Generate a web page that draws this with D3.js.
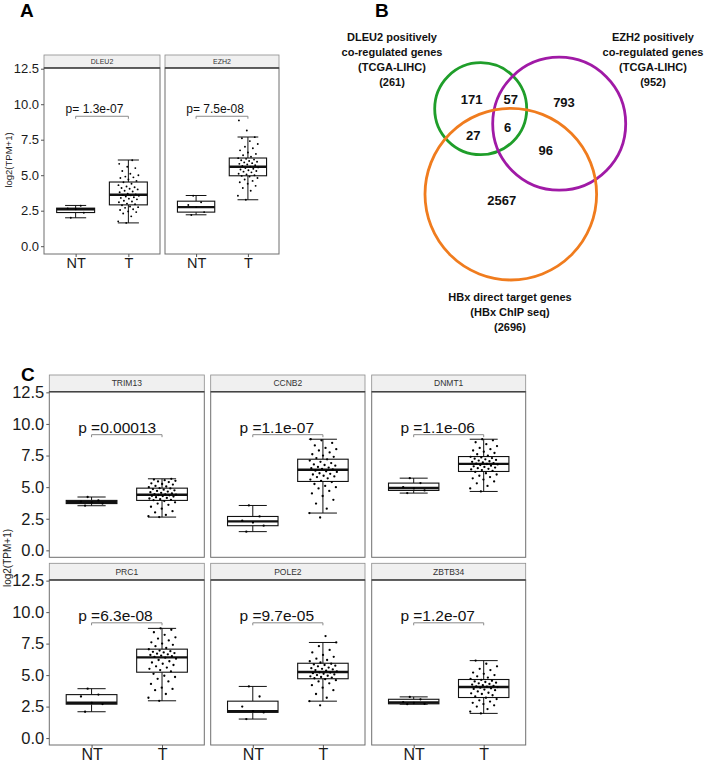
<!DOCTYPE html>
<html>
<head>
<meta charset="utf-8">
<script src="https://cdn.jsdelivr.net/npm/d3@7"></script>
<style>
  html, body { margin: 0; padding: 0; background: #fff; }
  svg { display: block; font-family: "Liberation Sans", Arial, sans-serif; }
</style>
</head>
<body>
<svg id="chart" width="708" height="763"></svg>
<script>
// ---------------- DATA ----------------
const groups = ["NT", "T"];
const yTicks = [0, 2.5, 5, 7.5, 10, 12.5];

// Panel A
const genesA = ["DLEU2", "EZH2"];
const pA = ["1.3e-07", "7.5e-08"];
// box stats: [lower whisker, Q1, median, Q3, upper whisker]
const boxNT_A = [[2.0, 2.37, 2.6, 2.68, 2.87], [2.21, 2.4, 2.75, 3.17, 3.57]];
const boxT_A = [[1.64, 2.91, 3.62, 4.52, 6.07], [3.27, 4.96, 5.6, 6.21, 7.69]];
const ptsNT_A = [
  [2.0, 2.35, 2.6, 2.65, 2.85],
  [2.2, 2.4, 2.75, 2.9, 3.1, 3.55]
];
const ptsT_A = [
  [1.64, 1.75, 2.1, 2.3, 2.4, 2.45, 2.55, 2.6, 2.7, 2.75, 2.8, 2.88,
   2.95, 3.0, 3.1, 3.15, 3.2, 3.3, 3.35, 3.4, 3.45, 3.5, 3.55, 3.58, 3.6,
   3.65, 3.7, 3.8, 3.85, 3.9, 4.0, 4.05, 4.1, 4.15, 4.2, 4.3, 4.4, 4.5,
   4.6, 4.7, 4.8, 4.85, 4.9, 5.0, 5.1, 5.3, 5.5, 5.6, 5.8, 6.05],
  [3.27, 3.55, 3.9, 4.1, 4.25, 4.4, 4.5, 4.6, 4.7, 4.8, 4.9, 4.95,
   5.0, 5.05, 5.1, 5.2, 5.25, 5.3, 5.35, 5.4, 5.45, 5.5, 5.55, 5.6,
   5.65, 5.7, 5.75, 5.8, 5.85, 5.9, 5.95, 6.0, 6.05, 6.1, 6.15, 6.2,
   6.3, 6.4, 6.5, 6.6, 6.75, 6.9, 7.0, 7.2, 7.4, 7.6, 7.68, 8.15, 8.86]
];

// Panel B (Venn)
const vennSets = ["DLEU2 positively|co-regulated genes|(TCGA-LIHC)|(261)",
                  "EZH2 positively|co-regulated genes|(TCGA-LIHC)|(952)",
                  "HBx direct target genes|(HBx ChIP seq)|(2696)"];
const vennCounts = [171, 57, 793, 27, 6, 96, 2567];

// Panel C
const genesC = ["TRIM13", "CCNB2", "DNMT1", "PRC1", "POLE2", "ZBTB34"];
const pC = ["0.00013", "1.1e-07", "1.1e-06", "6.3e-08", "9.7e-05", "1.2e-07"];
const boxNT_C = [
  [3.53, 3.7, 3.8, 3.95, 4.22],
  [1.48, 1.95, 2.29, 2.68, 3.55],
  [4.53, 4.74, 4.93, 5.32, 5.71],
  [2.09, 2.69, 2.8, 3.45, 3.92],
  [1.51, 2.04, 2.14, 2.93, 4.1],
  [2.69, 2.72, 2.82, 3.08, 3.27]
];
const boxT_C = [
  [2.63, 3.95, 4.4, 4.92, 5.66],
  [2.95, 5.45, 6.37, 7.21, 8.79],
  [4.66, 6.24, 6.84, 7.42, 8.79],
  [2.96, 5.23, 6.41, 7.06, 8.71],
  [2.93, 4.71, 5.24, 5.94, 7.59],
  [1.96, 3.22, 4.06, 4.65, 6.15]
];
const ptsNT_C = [
  [3.53, 3.7, 3.8, 3.85, 3.95, 4.22],
  [1.48, 1.95, 2.2, 2.35, 2.68, 3.55],
  [4.53, 4.74, 4.9, 5.0, 5.32, 5.71],
  [2.09, 2.7, 2.8, 3.3, 3.45, 3.92],
  [1.51, 2.04, 2.14, 2.5, 3.3, 4.1],
  [2.69, 2.72, 2.8, 2.85, 3.08, 3.27]
];
const ptsT_C = [
  [2.63, 2.7, 2.8, 3.0, 3.1, 3.3, 3.45, 3.6, 3.7, 3.8, 3.9,
   3.97, 4.0, 4.05, 4.1, 4.15, 4.2, 4.25, 4.3, 4.32, 4.35, 4.38, 4.4,
   4.42, 4.45, 4.5, 4.55, 4.6, 4.65, 4.7, 4.75, 4.8, 4.85, 4.9, 4.92,
   5.0, 5.05, 5.1, 5.2, 5.25, 5.3, 5.4, 5.45, 5.5, 5.55, 5.6, 5.66],
  [2.6, 2.95, 3.3, 3.7, 4.0, 4.3, 4.5, 4.7, 4.9, 5.0, 5.1, 5.25, 5.4,
   5.5, 5.6, 5.7, 5.8, 5.85, 5.9, 6.0, 6.05, 6.1, 6.2, 6.25, 6.3,
   6.4, 6.45, 6.5, 6.55, 6.6, 6.7, 6.75, 6.8, 6.9, 7.0, 7.1, 7.2,
   7.3, 7.4, 7.5, 7.6, 7.75, 7.9, 8.0, 8.1, 8.3, 8.5, 8.7, 8.79],
  [4.66, 4.9, 5.1, 5.3, 5.45, 5.6, 5.7, 5.8, 5.9, 6.0, 6.1, 6.2,
   6.28, 6.35, 6.4, 6.45, 6.5, 6.55, 6.6, 6.65, 6.7, 6.75, 6.8, 6.83,
   6.86, 6.9, 6.95, 7.0, 7.05, 7.1, 7.15, 7.2, 7.25, 7.3, 7.35, 7.4,
   7.5, 7.6, 7.7, 7.8, 7.9, 8.0, 8.1, 8.25, 8.4, 8.55, 8.7, 8.79],
  [2.96, 3.2, 3.5, 3.8, 3.9, 4.0, 4.3, 4.5, 4.7, 4.85, 4.95, 5.1,
   5.3, 5.4, 5.5, 5.6, 5.7, 5.8, 5.9, 6.0, 6.1, 6.2, 6.3, 6.38,
   6.45, 6.5, 6.55, 6.6, 6.65, 6.7, 6.75, 6.8, 6.85, 6.9, 6.95, 7.05,
   7.15, 7.3, 7.4, 7.5, 7.6, 7.75, 7.9, 8.0, 8.2, 8.4, 8.6, 8.71],
  [2.6, 2.93, 3.2, 3.5, 3.8, 4.0, 4.2, 4.35, 4.5, 4.6, 4.68,
   4.75, 4.8, 4.85, 4.9, 4.95, 5.0, 5.05, 5.1, 5.15, 5.2, 5.22,
   5.3, 5.35, 5.4, 5.45, 5.5, 5.55, 5.6, 5.7, 5.75, 5.8, 5.85, 5.9,
   6.0, 6.1, 6.2, 6.3, 6.45, 6.6, 6.8, 7.0, 7.3, 7.59, 8.1],
  [1.96, 2.1, 2.3, 2.5, 2.6, 2.7, 2.8, 2.9, 3.0, 3.1, 3.2,
   3.3, 3.4, 3.5, 3.55, 3.6, 3.7, 3.8, 3.85, 3.9, 3.95, 4.0, 4.05,
   4.08, 4.1, 4.15, 4.2, 4.25, 4.3, 4.35, 4.4, 4.45, 4.5, 4.55, 4.62,
   4.7, 4.8, 4.9, 5.0, 5.1, 5.2, 5.4, 5.5, 5.7, 5.9, 6.15]
];
const bracketY = 9.15;

// ---------------- DRAWING ----------------
const svg = d3.select("#chart");
const yDomain = [-0.55, 12.55];

function frac(v) { return v - Math.floor(v); }

function facet(cfg) {
  const g = svg.append("g");
  const x = d3.scalePoint().domain(groups).range([cfg.x0, cfg.x1]).padding(0.6);
  const step = x.step();
  const y = d3.scaleLinear().domain(yDomain).range([cfg.plotBottom, cfg.plotTop]);

  // strip
  g.append("rect")
    .attr("x", cfg.x0).attr("y", cfg.stripTop)
    .attr("width", cfg.x1 - cfg.x0).attr("height", cfg.plotTop - cfg.stripTop)
    .attr("fill", "#f0f0f0").attr("stroke", "#8c8c8c").attr("stroke-width", 0.8);
  g.append("text")
    .attr("x", (cfg.x0 + cfg.x1) / 2).attr("y", (cfg.stripTop + cfg.plotTop) / 2)
    .attr("dy", "0.36em").attr("text-anchor", "middle")
    .attr("font-size", cfg.stripFont).attr("fill", "#333")
    .text(cfg.gene);

  // panel
  g.append("rect")
    .attr("x", cfg.x0).attr("y", cfg.plotTop)
    .attr("width", cfg.x1 - cfg.x0).attr("height", cfg.plotBottom - cfg.plotTop)
    .attr("fill", "#fff").attr("stroke", "#6e6e6e").attr("stroke-width", 1);
  g.append("line")
    .attr("x1", cfg.x0).attr("x2", cfg.x1)
    .attr("y1", cfg.plotTop).attr("y2", cfg.plotTop)
    .attr("stroke", "#444").attr("stroke-width", 1.6);

  // boxes
  const boxes = [cfg.boxNT, cfg.boxT];
  groups.forEach((grp, gi) => {
    const s = boxes[gi];
    const cx = x(grp);
    const bw = 0.72 * step, cw = 0.4 * step;
    g.append("line").attr("x1", cx).attr("x2", cx).attr("y1", y(s[0])).attr("y2", y(s[1]))
      .attr("stroke", "#111").attr("stroke-width", 1);
    g.append("line").attr("x1", cx).attr("x2", cx).attr("y1", y(s[3])).attr("y2", y(s[4]))
      .attr("stroke", "#111").attr("stroke-width", 1);
    [s[0], s[4]].forEach(v => {
      g.append("line").attr("x1", cx - cw / 2).attr("x2", cx + cw / 2)
        .attr("y1", y(v)).attr("y2", y(v)).attr("stroke", "#111").attr("stroke-width", 1);
    });
    g.append("rect")
      .attr("x", cx - bw / 2).attr("y", y(s[3]))
      .attr("width", bw).attr("height", Math.max(0.5, y(s[1]) - y(s[3])))
      .attr("fill", "#fff").attr("stroke", "#111").attr("stroke-width", 1.1);
    g.append("line").attr("x1", cx - bw / 2).attr("x2", cx + bw / 2)
      .attr("y1", y(s[2])).attr("y2", y(s[2]))
      .attr("stroke", "#111").attr("stroke-width", 2.4);
  });

  // jittered points
  const pts = [cfg.ptsNT, cfg.ptsT];
  groups.forEach((grp, gi) => {
    g.selectAll(null).data(pts[gi]).enter().append("circle")
      .attr("cx", (d, i) => x(grp) + (frac(i * 0.618034 + 0.27 + gi * 0.13) - 0.5) * 0.4 * step)
      .attr("cy", d => y(d))
      .attr("r", cfg.ptR).attr("fill", "#000");
  });

  // bracket + p label
  const by = y(bracketY), tick = cfg.bracketTick;
  g.append("path")
    .attr("d", `M${x("NT")},${by + tick}V${by}H${x("T")}V${by + tick}`)
    .attr("fill", "none").attr("stroke", "#8a8a8a").attr("stroke-width", 1);
  g.append("text")
    .attr("x", x("NT") - 0.19 * step).attr("y", by - cfg.pGap)
    .attr("font-size", cfg.pFont).attr("fill", "#111")
    .text(cfg.pText);

  // y axis
  if (cfg.yAxis) {
    const ax = g.append("g").attr("transform", `translate(${cfg.x0},0)`)
      .call(d3.axisLeft(y).tickValues(yTicks).tickFormat(d3.format(".1f")).tickSize(3).tickPadding(2));
    ax.select(".domain").remove();
    ax.selectAll(".tick line").attr("stroke", "#555");
    ax.selectAll(".tick text").attr("font-size", cfg.yFont).attr("fill", "#1a1a1a")
      .attr("font-family", "Liberation Sans, Arial, sans-serif");
  }
  // x axis
  if (cfg.xAxis) {
    const ax = g.append("g").attr("transform", `translate(0,${cfg.plotBottom})`)
      .call(d3.axisBottom(x).tickSize(3).tickPadding(1));
    ax.select(".domain").remove();
    ax.selectAll(".tick line").attr("stroke", "#555");
    ax.selectAll(".tick text").attr("font-size", cfg.xFont).attr("fill", "#1a1a1a")
      .attr("font-family", "Liberation Sans, Arial, sans-serif");
  }
}

// Panel letters
[["A", 20, 17], ["B", 375, 17], ["C", 21, 381]].forEach(([t, lx, ly]) => {
  svg.append("text").attr("x", lx).attr("y", ly)
    .attr("font-size", 19).attr("font-weight", "bold").attr("fill", "#000").text(t);
});

// ---- Panel A ----
const colsA = [[44, 160], [165, 279]];
genesA.forEach((gene, i) => {
  facet({
    x0: colsA[i][0], x1: colsA[i][1], stripTop: 55, plotTop: 68, plotBottom: 254,
    gene, boxNT: boxNT_A[i], boxT: boxT_A[i], ptsNT: ptsNT_A[i], ptsT: ptsT_A[i],
    pText: "p= " + pA[i], pFont: 12, pGap: 3.5, bracketTick: 2.5,
    stripFont: 7, ptR: 0.95, yAxis: i === 0, xAxis: true, yFont: 13, xFont: 14.5
  });
});
svg.append("text")
  .attr("transform", "translate(12,160) rotate(-90)")
  .attr("text-anchor", "middle").attr("font-size", 9.5).attr("fill", "#222")
  .text("log2(TPM+1)");

// ---- Panel C ----
const colsC = [[49.3, 204.3], [210.7, 365], [371.7, 525.7]];
const rowsC = [[375, 391.7, 557.3], [563.3, 580, 745]];
genesC.forEach((gene, i) => {
  const c = i % 3, r = Math.floor(i / 3);
  facet({
    x0: colsC[c][0], x1: colsC[c][1],
    stripTop: rowsC[r][0], plotTop: rowsC[r][1], plotBottom: rowsC[r][2],
    gene, boxNT: boxNT_C[i], boxT: boxT_C[i], ptsNT: ptsNT_C[i], ptsT: ptsT_C[i],
    pText: "p =" + pC[i], pFont: 15.5, pGap: 2, bracketTick: 2.5,
    stripFont: 8.5, ptR: 1.15, yAxis: c === 0, xAxis: r === 1, yFont: 16.5, xFont: 16
  });
});
svg.append("text")
  .attr("transform", "translate(11,558) rotate(-90)")
  .attr("text-anchor", "middle").attr("font-size", 10).attr("fill", "#222")
  .text("log2(TPM+1)");

// ---- Panel B: Venn ----
const vennCircles = [
  { cx: 480.7, cy: 108.7, r: 46, color: "#1f9e2a" },
  { cx: 559.2, cy: 123.7, r: 66.5, color: "#a01aa6" },
  { cx: 510.8, cy: 194.2, r: 85.8, color: "#f07c1e" }
];
svg.selectAll("circle.venn").data(vennCircles).enter().append("circle")
  .attr("class", "venn")
  .attr("cx", d => d.cx).attr("cy", d => d.cy).attr("r", d => d.r)
  .attr("fill", "none").attr("stroke", d => d.color).attr("stroke-width", 2.8);

const vennCountPos = [[471.7, 99], [510.7, 99], [564, 102.7], [473.3, 135.7],
                      [507.7, 127.7], [545.7, 150.7], [501.7, 200.7]];
vennCounts.forEach((v, i) => {
  svg.append("text").attr("x", vennCountPos[i][0]).attr("y", vennCountPos[i][1])
    .attr("dy", "0.36em").attr("text-anchor", "middle")
    .attr("font-size", 13).attr("font-weight", "bold").attr("fill", "#111").text(v);
});
const vennLabelPos = [[392, 36.7], [653, 36.7], [510, 297.5]];
vennSets.forEach((lab, i) => {
  lab.split("|").forEach((line, j) => {
    svg.append("text").attr("x", vennLabelPos[i][0]).attr("y", vennLabelPos[i][1] + j * 15)
      .attr("dy", "0.36em").attr("text-anchor", "middle")
      .attr("font-size", 11).attr("font-weight", "bold").attr("fill", "#111").text(line);
  });
});
</script>
</body>
</html>
